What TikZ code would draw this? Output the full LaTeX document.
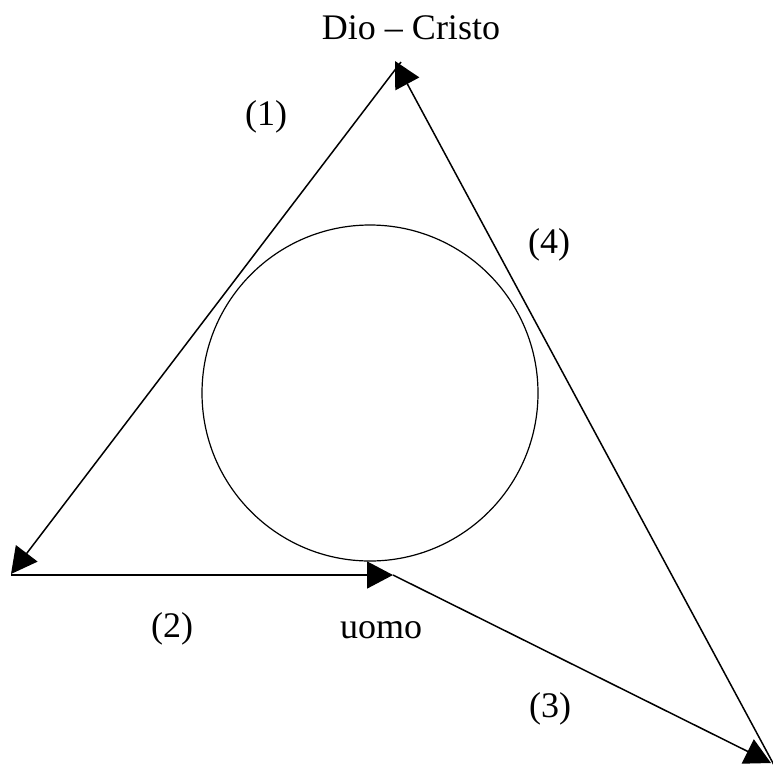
\documentclass[tikz,border=0pt]{standalone}
\usepackage{fontspec}
\setmainfont{Liberation Serif}
\usetikzlibrary{arrows.meta}
\begin{document}
\begin{tikzpicture}[x=1pt,y=-1pt,
  edge/.style={line width=1.5pt,-{Triangle[length=26pt,width=27pt]}},
  lbl/.style={anchor=base,inner sep=0pt,font=\fontsize{36}{43}\selectfont}]
\useasboundingbox (0,0) rectangle (773,764);
\coordinate (top1) at (401,62);
\coordinate (top4) at (395,61);
\coordinate (left) at (11,574);
\coordinate (left2) at (11,575);
\coordinate (uomo) at (393,575);
\coordinate (br3) at (771,763);
\coordinate (br4) at (774,765);
\node[circle,draw,line width=1.2pt,minimum size=336pt,inner sep=0pt] (c) at (370,393) {};
\draw[edge] (top1) -- (left);
\draw[edge] (left2) -- (uomo);
\draw[edge] (uomo) -- (br3);
\draw[edge] (br4) -- (top4);
\node[lbl] (t0) at (411,39) {Dio – Cristo};
\node[lbl] (t1) at (381,638) {uomo};
\node[lbl] (l1) at (266,125) {(1)};
\node[lbl] (l2) at (172,637) {(2)};
\node[lbl] (l3) at (550,717) {(3)};
\node[lbl] (l4) at (549,253) {(4)};
\end{tikzpicture}
\end{document}
